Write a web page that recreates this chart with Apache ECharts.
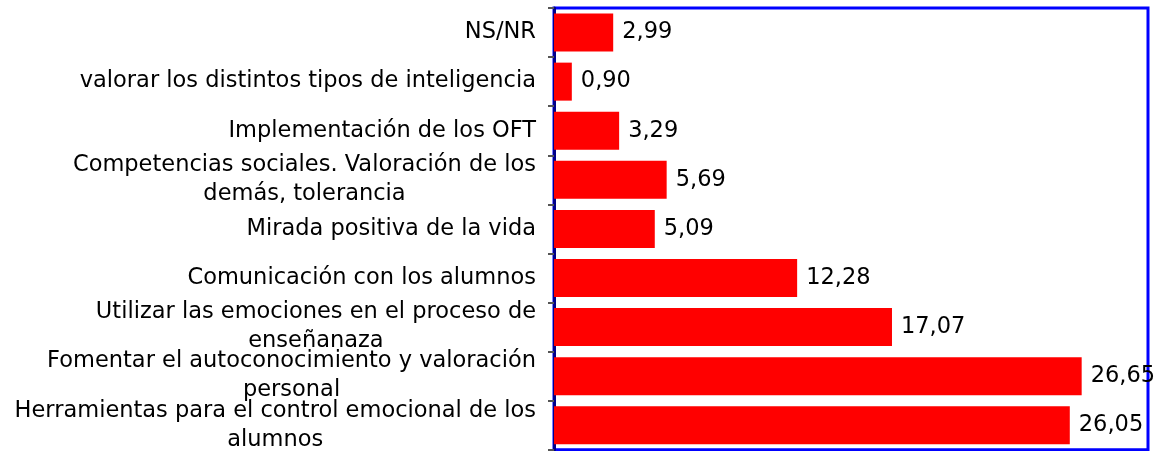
<!DOCTYPE html>
<html>
<head>
<meta charset="utf-8">
<script src="https://cdn.jsdelivr.net/npm/echarts@6/dist/echarts.min.js"></script>
<style>
    html, body { margin: 0; padding: 0; background: #fff; }
    #chart { width: 1161px; height: 451px; }
</style>
</head>
<body>
<div id="chart"></div>
<script>
// categorias (de arriba a abajo)
var categorias = [
    'NS/NR',
    'valorar los distintos tipos de inteligencia',
    'Implementación de los OFT',
    'Competencias sociales. Valoración de los\ndemás, tolerancia',
    'Mirada positiva de la vida',
    'Comunicación con los alumnos',
    'Utilizar las emociones en el proceso de\nenseñanaza',
    'Fomentar el autoconocimiento y valoración\npersonal',
    'Herramientas para el control emocional de los\nalumnos'
];
// porcentajes
var valores = [2.99, 0.90, 3.29, 5.69, 5.09, 12.28, 17.07, 26.65, 26.05];
var ejeMax = 30;

var fuente = 'DejaVu Sans';
var tam = 22.5;

var chart = echarts.init(document.getElementById('chart'));

var option = {
    animation: false,
    grid: {
        left: 554,
        top: 8,
        right: 13,
        height: 446,
        show: true,
        borderColor: '#0000ff',
        borderWidth: 3,
        backgroundColor: '#fff'
    },
    xAxis: {
        type: 'value',
        min: 0,
        max: ejeMax,
        show: false
    },
    yAxis: {
        type: 'category',
        inverse: true,
        data: categorias,
        axisLine: { show: true, lineStyle: { color: '#00008b', width: 3 } },
        axisTick: { show: true, length: 6, lineStyle: { color: '#555', width: 2 } },
        axisLabel: {
            interval: 0,
            showMinLabel: true,
            showMaxLabel: true,
            hideOverlap: false,
            margin: 18,
            align: 'right',
            formatter: function (v) {
                // cada linea centrada dentro del bloque
                return v.split('\n').map(function (l) { return '{c|' + l + '}'; }).join('\n');
            },
            rich: {
                c: {
                    align: 'center',
                    fontFamily: fuente,
                    fontSize: tam,
                    lineHeight: 29,
                    color: '#000'
                }
            }
        }
    },
    series: [
        {
            type: 'bar',
            data: valores,
            barWidth: 38,
            itemStyle: { color: '#ff0000' },
            label: {
                show: true,
                position: 'right',
                distance: 9,
                fontFamily: fuente,
                fontSize: tam,
                color: '#000',
                formatter: function (p) {
                    return p.value.toFixed(2).replace('.', ',');
                }
            }
        }
    ]
};

chart.setOption(option);
</script>
</body>
</html>
